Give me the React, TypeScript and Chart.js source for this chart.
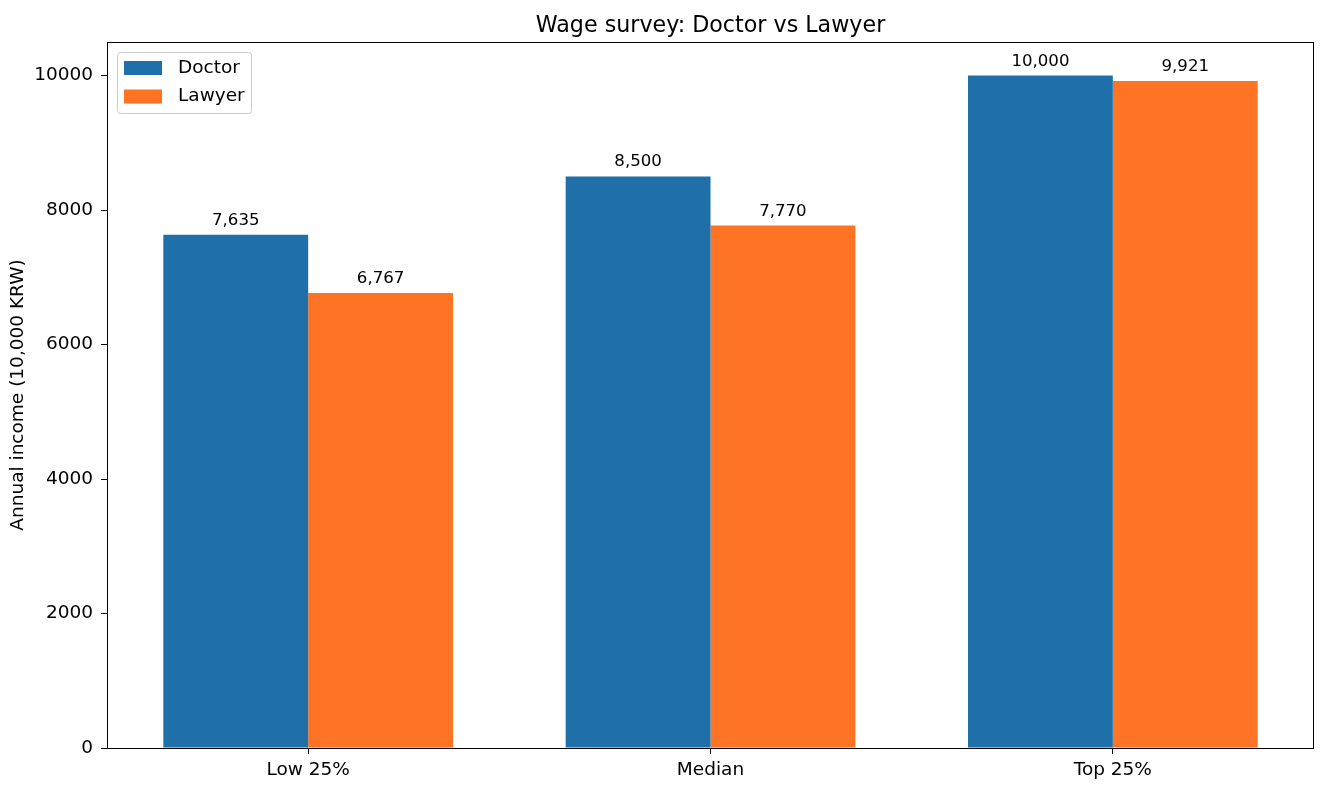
import React, { useEffect, useRef } from 'react';
import { Chart, registerables } from 'chart.js';

Chart.register(...registerables);

const categories = ['Low 25%', 'Median', 'Top 25%'];
const doctorValues = [7635, 8500, 10000];
const lawyerValues = [6767, 7770, 9921];
const yTicks = [0, 2000, 4000, 6000, 8000, 10000];

const FONT = "'DejaVu Sans', sans-serif";
const BLUE = '#1f6fa8';
const ORANGE = '#fe7324';

// title, frame, value labels and the in-plot legend, matplotlib style
const extrasPlugin = {
    id: 'extras',
    afterDatasetsDraw(chart: any) {
        const { ctx } = chart;
        ctx.save();
        ctx.fillStyle = '#000';
        ctx.font = `16.6px ${FONT}`;
        ctx.textAlign = 'center';
        ctx.textBaseline = 'alphabetic';
        chart.data.datasets.forEach((ds: any, i: number) => {
            const meta = chart.getDatasetMeta(i);
            meta.data.forEach((bar: any, j: number) => {
                const v = ds.data[j] as number;
                ctx.fillText(v.toLocaleString('en-US'), bar.x, bar.y - 10);
            });
        });
        ctx.restore();
    },
    afterDraw(chart: any) {
        const { ctx, chartArea } = chart;
        ctx.save();
        // frame
        ctx.strokeStyle = '#000';
        ctx.lineWidth = 1;
        ctx.strokeRect(
            Math.round(chartArea.left) + 0.5,
            Math.round(chartArea.top) + 0.5,
            Math.round(chartArea.right - chartArea.left) - 1,
            Math.round(chartArea.bottom - chartArea.top)
        );
        // title
        ctx.fillStyle = '#000';
        ctx.font = `22.2px ${FONT}`;
        ctx.textAlign = 'center';
        ctx.textBaseline = 'alphabetic';
        ctx.fillText('Wage survey: Doctor vs Lawyer', (chartArea.left + chartArea.right) / 2, 31.5);
        // legend
        const lx = chartArea.left + 10;
        const ly = chartArea.top + 10;
        const lw = 134;
        const lh = 61;
        ctx.beginPath();
        ctx.roundRect(lx + 0.5, ly + 0.5, lw, lh, 3);
        ctx.fillStyle = 'rgba(255,255,255,0.8)';
        ctx.fill();
        ctx.strokeStyle = '#cccccc';
        ctx.stroke();
        ctx.font = `18.5px ${FONT}`;
        ctx.textAlign = 'left';
        ctx.textBaseline = 'middle';
        chart.data.datasets.forEach((ds: any, i: number) => {
            const cy = ly + 16 + i * 28.5;
            ctx.fillStyle = ds.backgroundColor;
            ctx.fillRect(lx + 7, cy - 7, 38, 14);
            ctx.fillStyle = '#000';
            ctx.fillText(ds.label, lx + 61, cy);
        });
        ctx.restore();
    },
};

const App = () => {
    const canvasRef = useRef<HTMLCanvasElement>(null);

    useEffect(() => {
        let chart: Chart<'bar', number[], string> | null = null;
        if (canvasRef.current) {
            const ctx = canvasRef.current.getContext('2d');
            if (ctx) {
                Chart.defaults.color = '#000';
                Chart.defaults.font.family = FONT;
                chart = new Chart(ctx, {
                    type: 'bar',
                    data: {
                        labels: categories,
                        datasets: [
                            {
                                label: 'Doctor',
                                data: doctorValues,
                                backgroundColor: BLUE,
                                categoryPercentage: 0.72,
                                barPercentage: 1,
                            },
                            {
                                label: 'Lawyer',
                                data: lawyerValues,
                                backgroundColor: ORANGE,
                                categoryPercentage: 0.72,
                                barPercentage: 1,
                            },
                        ],
                    },
                    options: {
                        animation: false,
                        responsive: true,
                        maintainAspectRatio: false,
                        layout: { padding: { top: 42, right: 10, bottom: 0, left: 0 } },
                        plugins: {
                            legend: { display: false },
                            title: { display: false },
                            tooltip: { enabled: false },
                        },
                        scales: {
                            x: {
                                offset: true,
                                grid: {
                                    drawOnChartArea: false,
                                    drawTicks: true,
                                    tickLength: 6,
                                    color: '#000',
                                    offset: false,
                                },
                                border: { display: false },
                                ticks: { font: { size: 18.5 }, padding: 5, color: '#000', maxRotation: 0 },
                                afterFit: (scale: any) => {
                                    scale.height = 41;
                                },
                            },
                            y: {
                                min: 0,
                                max: 10500,
                                grid: {
                                    drawOnChartArea: false,
                                    drawTicks: true,
                                    tickLength: 6,
                                    color: '#000',
                                },
                                border: { display: false },
                                ticks: {
                                    font: { size: 18.5 },
                                    padding: 8,
                                    color: '#000',
                                    callback: (v: any) => String(v),
                                },
                                afterBuildTicks: (scale: any) => {
                                    scale.ticks = yTicks.map((v) => ({ value: v }));
                                },
                                title: {
                                    display: true,
                                    text: 'Annual income (10,000 KRW)',
                                    font: { size: 18.5 },
                                    color: '#000',
                                    padding: { top: 7, bottom: 4 },
                                },
                                afterFit: (scale: any) => {
                                    scale.width = 107;
                                },
                            },
                        },
                    },
                    plugins: [extrasPlugin],
                });
            }
        }
        return () => {
            if (chart) chart.destroy();
        };
    }, []);

    return (
        <div style={{ position: 'absolute', left: 0, top: 0, width: '1324px', height: '789px', background: '#fff' }}>
            <canvas ref={canvasRef}></canvas>
        </div>
    );
};

export default App;
